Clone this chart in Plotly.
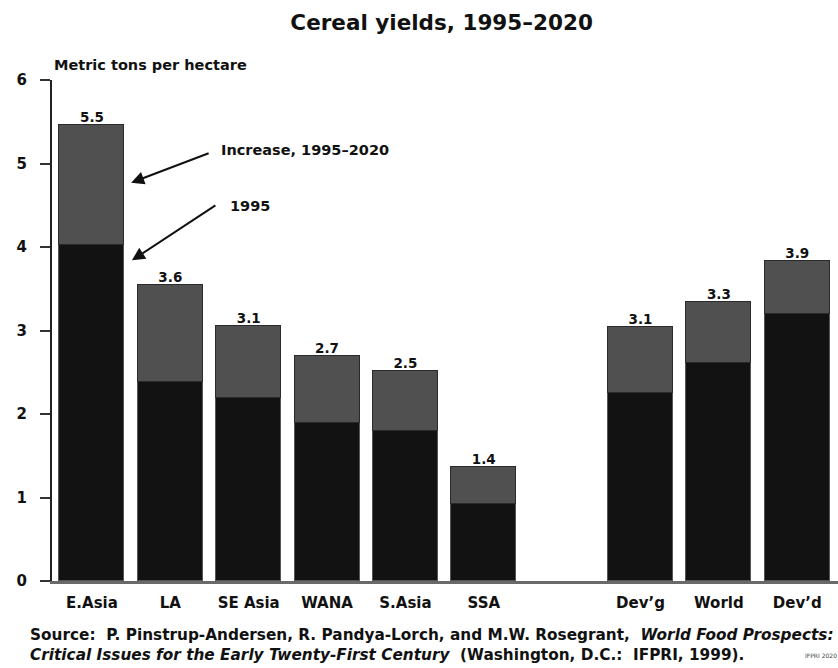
import plotly.graph_objects as go

regions = ["E.Asia", "LA", "SE Asia", "WANA", "S.Asia", "SSA", "Dev’g", "World", "Dev’d"]
positions = [0, 1, 2, 3, 4, 5, 7, 8, 9]
yield_1995 = [4.02, 2.38, 2.19, 1.89, 1.80, 0.92, 2.25, 2.61, 3.20]
yield_2020 = [5.46, 3.54, 3.05, 2.69, 2.51, 1.36, 3.04, 3.34, 3.83]
total_labels = ["5.5", "3.6", "3.1", "2.7", "2.5", "1.4", "3.1", "3.3", "3.9"]
increase = [round(t - b, 2) for t, b in zip(yield_2020, yield_1995)]

FONT = "DejaVu Sans, Verdana, sans-serif"

fig = go.Figure()
fig.add_trace(go.Bar(
    x=positions, y=yield_1995, width=0.83, name="1995",
    marker=dict(color="#121212", line=dict(color="#555555", width=1.5)),
))
fig.add_trace(go.Bar(
    x=positions, y=increase, width=0.83, name="Increase, 1995–2020",
    marker=dict(color="#505050", line=dict(color="#2a2a2a", width=1.5)),
))
fig.add_trace(go.Scatter(
    x=positions, y=yield_2020, mode="text", text=total_labels,
    textposition="top center",
    textfont=dict(family=FONT, size=13.5, color="#111111", weight="bold"),
    showlegend=False, hoverinfo="skip",
))

fig.update_layout(
    barmode="stack",
    width=838, height=668,
    margin=dict(l=52, r=0, t=80, b=87),
    paper_bgcolor="white", plot_bgcolor="white",
    showlegend=False,
    bargap=0,
    title=dict(text="Cereal yields, 1995–2020", x=0.527, xanchor="center",
               y=0.966, yanchor="middle",
               font=dict(family=FONT, size=21.5, color="#111111", weight="bold")),
    xaxis=dict(range=[-0.51, 9.52], tickvals=positions, ticktext=regions,
               showgrid=False, zeroline=False, showline=True,
               linecolor="#6a6a6a", linewidth=3, ticks="",
               ticklabelstandoff=6,
               tickfont=dict(family=FONT, size=15, color="#111111", weight="bold")),
    yaxis=dict(range=[0, 6], tickvals=[0, 1, 2, 3, 4, 5, 6],
               showgrid=False, zeroline=False, showline=True,
               linecolor="#222222", linewidth=2, ticks="outside",
               ticklen=10, tickwidth=2, tickcolor="#333333",
               ticklabelstandoff=10,
               tickfont=dict(family=FONT, size=15, color="#111111", weight="bold")),
    font=dict(family=FONT, color="#111111"),
)

annots = [
    dict(text="<b>Metric tons per hectare</b>", xref="paper", yref="paper",
         x=0.0, xanchor="left", y=1.03, yanchor="middle", showarrow=False,
         font=dict(size=14.5)),
    dict(x=0.50, y=4.77, xref="x", yref="y", ax=79, ay=-30, text="",
         showarrow=True, arrowhead=2, arrowsize=1.3, arrowwidth=2, arrowcolor="#111111"),
    dict(x=0.51, y=3.84, xref="x", yref="y", ax=85, ay=-56, text="",
         showarrow=True, arrowhead=2, arrowsize=1.3, arrowwidth=2, arrowcolor="#111111"),
    dict(text="<b>Increase, 1995–2020</b>", xref="x", yref="y",
         x=1.62, xanchor="left", y=5.16, yanchor="middle", showarrow=False,
         font=dict(size=14.5)),
    dict(text="<b>1995</b>", xref="x", yref="y",
         x=1.735, xanchor="left", y=4.49, yanchor="middle", showarrow=False,
         font=dict(size=14.5)),
    dict(text="<b>Source:  P. Pinstrup-Andersen, R. Pandya-Lorch, and M.W. Rosegrant,  <i>World Food Prospects:</i></b>",
         xref="paper", yref="paper", x=-0.03, xanchor="left", y=-0.108, yanchor="middle",
         showarrow=False, font=dict(size=15.3)),
    dict(text="<b><i>Critical Issues for the Early Twenty-First Century</i>  (Washington, D.C.:  IFPRI, 1999).</b>",
         xref="paper", yref="paper", x=-0.03, xanchor="left", y=-0.148, yanchor="middle",
         showarrow=False, font=dict(size=15.3)),
    dict(text="IFPRI 2020", xref="paper", yref="paper", x=0.955, xanchor="left",
         y=-0.148, yanchor="middle", showarrow=False, font=dict(size=6, color="#444444")),
]
fig.update_layout(annotations=annots)

fig.write_html("out.html", post_script="document.body.style.margin='0';",
               config={"displayModeBar": False})
